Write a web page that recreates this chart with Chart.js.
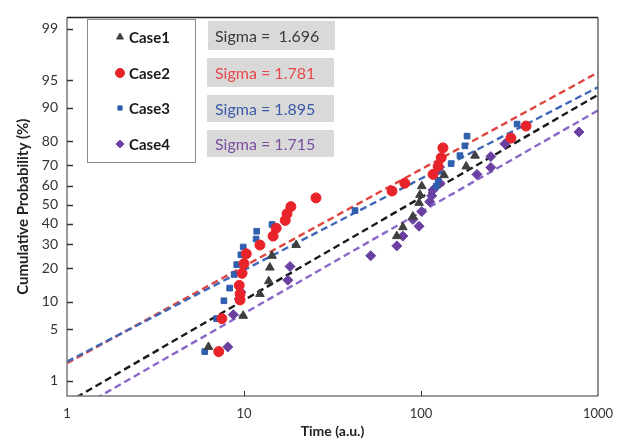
<!DOCTYPE html>
<html>
<head>
<meta charset="utf-8">
<script src="https://cdn.jsdelivr.net/npm/chart.js@4.4.0/dist/chart.umd.min.js"></script>
<style>
  html, body { margin: 0; padding: 0; background: #fff; }
  #wrap { width: 624px; height: 441px; position: relative; }
</style>
</head>
<body>
<div id="wrap"><canvas id="c"></canvas></div>
<script>
// === Data (time in a.u., cumulative probability in %) ===
const caseNames = ['Case1', 'Case2', 'Case3', 'Case4'];
const sigmaLabels = ['Sigma =  1.696', 'Sigma = 1.781', 'Sigma = 1.895', 'Sigma = 1.715'];

const case1Time = [6.3, 9.9, 12.3, 13.8, 14.0, 14.4, 19.7, 73, 79, 90, 97.5, 98.7, 101, 135, 180, 202];
const case1Prob = [3.0, 7.1, 11.9, 15.6, 20.3, 25.0, 29.7, 33.9, 38.3, 43.8, 51.0, 55.2, 59.7, 65.2, 69.4, 74.2];

const case2Time = [7.2, 7.5, 9.5, 9.5, 9.4, 9.75, 10.0, 10.3, 12.3, 14.6, 15.2, 17.1, 17.5, 18.4, 25.5, 68.6, 81, 117, 125, 130, 133, 322, 392];
const case2Prob = [2.6, 6.6, 10.4, 11.9, 14.3, 18.2, 21.8, 25.8, 29.7, 33.9, 37.8, 41.8, 45.3, 49.0, 53.6, 57.2, 61.2, 65.6, 69.4, 73.3, 77.4, 81.1, 85.1];

const case3Time = [6.0, 7.0, 7.7, 8.3, 8.8, 9.1, 9.6, 9.9, 11.7, 11.8, 14.4, 17.3, 42.4, 122, 125, 128, 148, 166, 177, 182, 349];
const case3Prob = [2.6, 6.6, 10.2, 13.5, 17.8, 21.4, 25.4, 28.8, 32.5, 36.3, 39.7, 44.3, 46.9, 59.7, 62.7, 67.1, 70.7, 74.2, 78.2, 81.8, 85.7];

const case4Time = [8.1, 8.7, 9.4, 9.6, 17.7, 18.2, 52, 73, 79, 97.5, 90, 101, 112, 115, 117, 128, 207, 248, 248, 298, 781];
const case4Prob = [3.0, 7.3, 10.6, 12.4, 15.9, 20.7, 25.0, 29.3, 33.9, 38.8, 42.3, 46.4, 51.6, 54.7, 57.7, 61.2, 65.6, 68.9, 73.8, 79.0, 83.2];

// fitted lognormal lines, read at both ends of the time axis
const fitTime = [1, 1000];
const fit1Prob = [0.44, 92.7];
const fit2Prob = [1.8, 96.0];
const fit3Prob = [1.9, 94.0];
const fit4Prob = [0.27, 89.4];

const xTicks = [1, 10, 100, 1000];
const yTicks = [1, 5, 10, 20, 30, 40, 50, 60, 70, 80, 90, 95, 99];
const yRangePct = [0.57, 99.34];

// === Styles ===
const markerColors = ['#3f3f3f', '#e8242a', '#2f5fae', '#6a40a0'];
const lineColors = ['#1a1a1a', '#e0453f', '#3f68b8', '#8a68c8'];
const sigmaColors = ['#3a3a3a', '#e8474b', '#3a5aa8', '#7a4f9e'];
const markerStyles = ['triangle', 'circle', 'rect', 'rectRot'];
const markerSizes = [5, 5, 4, 5];
const legendSizes = [4, 4.5, 3, 4];

// inverse of the standard normal CDF (Acklam)
function probit(p) {
    const a = [-39.69683028665376, 220.9460984245205, -275.9285104469687, 138.3577518672690, -30.66479806614716, 2.506628277459239];
    const b = [-54.47609879822406, 161.5858368580409, -155.6989798598866, 66.80131188771972, -13.28068155288572];
    const c = [-0.007784894002430293, -0.3223964580411365, -2.400758277161838, -2.549732539343734, 4.374664141464968, 2.938163982698783];
    const d = [0.007784695709041462, 0.3224671290700398, 2.445134137142996, 3.754408661907416];
    const lo = 0.02425;
    let q, r;
    if (p < lo) {
        q = Math.sqrt(-2 * Math.log(p));
        return (((((c[0] * q + c[1]) * q + c[2]) * q + c[3]) * q + c[4]) * q + c[5]) / ((((d[0] * q + d[1]) * q + d[2]) * q + d[3]) * q + 1);
    }
    if (p > 1 - lo) {
        q = Math.sqrt(-2 * Math.log(1 - p));
        return -(((((c[0] * q + c[1]) * q + c[2]) * q + c[3]) * q + c[4]) * q + c[5]) / ((((d[0] * q + d[1]) * q + d[2]) * q + d[3]) * q + 1);
    }
    q = p - 0.5; r = q * q;
    return (((((a[0] * r + a[1]) * r + a[2]) * r + a[3]) * r + a[4]) * r + a[5]) * q / (((((b[0] * r + b[1]) * r + b[2]) * r + b[3]) * r + b[4]) * r + 1);
}
const toPts = (ts, ps) => ts.map((t, i) => ({ x: t, y: probit(ps[i] / 100) }));

const caseTimes = [case1Time, case2Time, case3Time, case4Time];
const caseProbs = [case1Prob, case2Prob, case3Prob, case4Prob];
const fitProbs = [fit1Prob, fit2Prob, fit3Prob, fit4Prob];

const datasets = [];
caseNames.forEach((name, i) => {
    datasets.push({
        label: name,
        data: toPts(caseTimes[i], caseProbs[i]),
        pointStyle: markerStyles[i],
        pointRadius: markerSizes[i],
        backgroundColor: markerColors[i],
        borderColor: markerColors[i],
        borderWidth: 1,
        showLine: false,
        order: 1
    });
});
[3, 2, 1, 0].forEach(i => {
    datasets.push({
        label: 'fit ' + caseNames[i],
        data: toPts(fitTime, fitProbs[i]),
        showLine: true,
        pointRadius: 0,
        borderColor: lineColors[i],
        borderWidth: 2.4,
        borderDash: [7, 4],
        fill: false,
        order: 2
    });
});

// frame, inward ticks, legend box and sigma boxes
const decorPlugin = {
    id: 'decor',
    afterDraw(chart) {
        const ctx = chart.ctx, a = chart.chartArea;
        const xs = chart.scales.x, ys = chart.scales.y;
        ctx.save();
        ctx.lineWidth = 1.5;
        ctx.strokeStyle = '#7a7a7a';
        ctx.beginPath();
        ctx.moveTo(a.left, a.top); ctx.lineTo(a.left, a.bottom); ctx.lineTo(a.right, a.bottom);
        ctx.stroke();
        ctx.strokeStyle = '#222';
        ctx.beginPath();
        ctx.moveTo(a.left, a.top); ctx.lineTo(a.right, a.top);
        ctx.stroke();
        ctx.lineWidth = 1.2;
        ctx.strokeStyle = '#444';
        ctx.beginPath();
        ctx.moveTo(a.right, a.top); ctx.lineTo(a.right, a.bottom);
        ctx.stroke();
        // y ticks, pointing in
        ctx.lineWidth = 1.5;
        ctx.strokeStyle = '#333';
        yTicks.forEach(p => {
            const y = Math.round(ys.getPixelForValue(probit(p / 100))) + 0.5;
            ctx.beginPath(); ctx.moveTo(a.left, y); ctx.lineTo(a.left + 6, y); ctx.stroke();
        });
        ctx.lineWidth = 1;
        xTicks.slice(1, -1).forEach(t => {
            const x = Math.round(xs.getPixelForValue(t)) + 0.5;
            ctx.beginPath(); ctx.moveTo(x, a.bottom); ctx.lineTo(x, a.bottom - 5); ctx.stroke();
        });
        // legend
        ctx.lineWidth = 1;
        ctx.strokeStyle = '#8c8c8c';
        ctx.fillStyle = '#fff';
        ctx.fillRect(87.5, 19.5, 108, 143);
        ctx.strokeRect(87.5, 19.5, 108, 143);
        const rowY = [37, 73, 108, 144];
        ctx.font = 'bold 15px Lato';
        ctx.textBaseline = 'middle';
        ctx.textAlign = 'left';
        caseNames.forEach((name, i) => {
            ctx.fillStyle = markerColors[i];
            ctx.strokeStyle = markerColors[i];
            Chart.helpers.drawPoint(ctx, {
                pointStyle: markerStyles[i], radius: legendSizes[i], borderWidth: 1, rotation: 0
            }, 120, rowY[i]);
            ctx.fillStyle = '#1a1a1a';
            ctx.fillText(name, 129, rowY[i] + 1);
        });
        // sigma boxes
        const boxes = [[208, 21, 127, 29], [207, 58, 127, 29], [207, 95, 127, 27], [207, 130, 127, 27]];
        ctx.font = '16px Lato';
        sigmaLabels.forEach((s, i) => {
            const b = boxes[i];
            ctx.fillStyle = '#d9d9d9';
            ctx.fillRect(b[0], b[1], b[2], b[3]);
            ctx.fillStyle = sigmaColors[i];
            ctx.fillText(s, 215, b[1] + b[3] / 2 + 1);
        });
        ctx.restore();
    }
};

new Chart(document.getElementById('c'), {
    type: 'scatter',
    data: { datasets },
    options: {
        responsive: true,
        maintainAspectRatio: false,
        animation: false,
        layout: { padding: { top: 10, right: 26, left: 0, bottom: 0 } },
        plugins: { legend: { display: false }, tooltip: { enabled: false } },
        scales: {
            x: {
                type: 'logarithmic',
                min: xTicks[0], max: xTicks[xTicks.length - 1],
                afterBuildTicks: s => { s.ticks = xTicks.map(v => ({ value: v })); },
                afterFit: s => { s.height = 45; },
                grid: { display: false, drawTicks: false },
                border: { display: false },
                ticks: {
                    padding: 10, color: '#333', font: { family: 'Lato', size: 13 },
                    maxRotation: 0, autoSkip: false,
                    callback: v => String(v)
                },
                title: {
                    display: true, text: 'Time (a.u.)', color: '#222',
                    font: { family: 'Lato', size: 14, weight: 'bold' },
                    padding: { top: 1, bottom: 1 }
                }
            },
            y: {
                type: 'linear',
                min: probit(yRangePct[0] / 100), max: probit(yRangePct[1] / 100),
                afterBuildTicks: s => { s.ticks = yTicks.map(p => ({ value: probit(p / 100) })); },
                afterFit: s => { s.width = 67; },
                grid: { display: false, drawTicks: false },
                border: { display: false },
                ticks: {
                    padding: 9, color: '#333', font: { family: 'Lato', size: 14 },
                    autoSkip: false,
                    callback: (v, i) => String(yTicks[i])
                },
                title: {
                    display: true, text: 'Cumulative Probability (%)', color: '#222',
                    font: { family: 'Lato', size: 15, weight: 'bold' },
                    padding: { top: 14, bottom: 14 }
                }
            }
        }
    },
    plugins: [decorPlugin]
});
</script>
</body>
</html>
